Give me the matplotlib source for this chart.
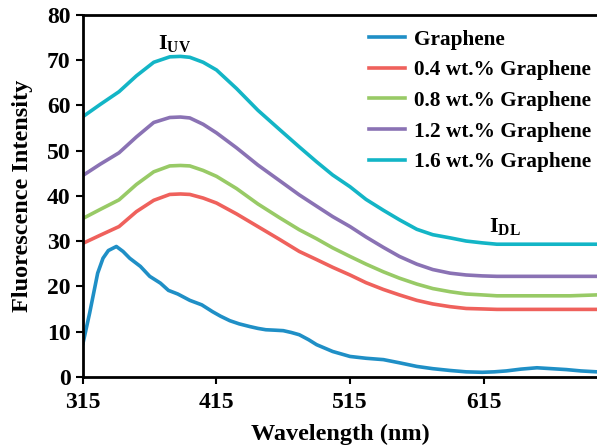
import numpy as np
import matplotlib.pyplot as plt

plt.rcParams['font.family'] = ['Liberation Serif', 'DejaVu Serif']
plt.rcParams['font.weight'] = 'bold'
plt.rcParams['mathtext.fontset'] = 'custom'
plt.rcParams['mathtext.rm'] = 'Liberation Serif:bold'
plt.rcParams['mathtext.bf'] = 'Liberation Serif:bold'

# wavelength samples (nm) and intensities
wl_blue = [315, 320, 326, 330, 334, 340, 345, 350, 358, 365, 373, 379, 386, 395,
           404, 412, 418, 425, 432, 440, 446, 452, 459, 465, 471, 477, 484,
           490, 502, 515, 527, 540, 552, 565, 577, 590, 602, 614, 623, 632, 643,
           655, 666, 677, 688, 700]
i_blue = [7.4, 14.1, 22.9, 26.2, 27.9, 28.8, 27.7, 26.2, 24.4, 22.2, 20.7, 19.1,
          18.3, 16.9, 15.9, 14.4, 13.4, 12.4, 11.7, 11.1, 10.7, 10.4, 10.3,
          10.2, 9.8, 9.3, 8.2, 7.1, 5.6, 4.5, 4.1, 3.8, 3.1, 2.3, 1.8, 1.4, 1.1,
          1.0, 1.1, 1.3, 1.7, 2.0, 1.8, 1.6, 1.3, 1.1]

wl = [315, 328, 342, 355, 368, 380, 388, 395, 405, 415, 430, 446, 462, 477, 490,
      502, 515, 527, 540, 552, 565, 577, 590, 602, 614, 625, 640, 660, 680, 700]
i_04 = [29.5, 31.3, 33.2, 36.5, 39.0, 40.3, 40.4, 40.3, 39.5, 38.4, 36.0, 33.2,
        30.4, 27.7, 25.9, 24.2, 22.5, 20.8, 19.3, 18.1, 16.9, 16.1, 15.5, 15.1,
        15.0, 14.9, 14.9, 14.9, 14.9, 14.9]
i_08 = [35.0, 37.0, 39.1, 42.5, 45.3, 46.6, 46.7, 46.6, 45.6, 44.3, 41.6, 38.2,
        35.2, 32.5, 30.5, 28.5, 26.6, 24.9, 23.2, 21.8, 20.5, 19.5, 18.8, 18.3,
        18.1, 17.9, 17.9, 17.9, 17.9, 18.1]
i_12 = [44.5, 47.0, 49.5, 53.0, 56.2, 57.3, 57.4, 57.2, 55.8, 53.9, 50.6, 46.8,
        43.4, 40.2, 37.7, 35.4, 33.2, 30.9, 28.6, 26.6, 24.9, 23.7, 22.9, 22.5,
        22.3, 22.2, 22.2, 22.2, 22.2, 22.2]
i_16 = [57.5, 60.2, 63.0, 66.5, 69.5, 70.7, 70.8, 70.6, 69.5, 67.8, 63.7, 58.9,
        54.7, 50.8, 47.5, 44.6, 42.0, 39.2, 36.8, 34.7, 32.6, 31.4, 30.7, 30.0,
        29.6, 29.3, 29.3, 29.3, 29.3, 29.3]

labels = ['Graphene', '0.4 wt.% Graphene', '0.8 wt.% Graphene',
          '1.2 wt.% Graphene', '1.6 wt.% Graphene']
colors = ['#1f8fc6', '#ef615c', '#98ca66', '#8a72b4', '#13b5c6']

fig = plt.figure(figsize=(5.97, 4.47), dpi=100)
ax = fig.add_axes([0.139, 0.157, 0.861, 0.81])

ax.plot(wl_blue, i_blue, color=colors[0], lw=2.6, label=labels[0])
ax.plot(wl, i_04, color=colors[1], lw=2.6, label=labels[1])
ax.plot(wl, i_08, color=colors[2], lw=2.6, label=labels[2])
ax.plot(wl, i_12, color=colors[3], lw=2.6, label=labels[3])
ax.plot(wl, i_16, color=colors[4], lw=2.6, label=labels[4])

ax.set_xlim(315, 700)
ax.set_ylim(0, 80)
ax.set_xticks([315, 415, 515, 615])
ax.set_yticks(range(0, 81, 10))
ax.tick_params(labelsize=17, width=1.5, length=5)
ax.tick_params(axis='x', pad=6)
ax.tick_params(axis='y', pad=4)
for s in ['left', 'bottom', 'top']:
    ax.spines[s].set_linewidth(2)
ax.spines['right'].set_visible(False)

ax.set_xlabel('Wavelength (nm)', fontsize=17.5, fontweight='bold', labelpad=8)
ax.set_ylabel('Fluorescence Intensity', fontsize=17.5, fontweight='bold', labelpad=10)

ax.text(371, 72.3, r'I$_{\mathrm{UV}}$', fontsize=16)
ax.text(619, 32.0, r'I$_{\mathrm{DL}}$', fontsize=16)

leg = ax.legend(loc='upper left', bbox_to_anchor=(0.527, 1.0), frameon=False,
                fontsize=15.3, handlelength=1.7, handletextpad=0.45,
                labelspacing=0.5, borderaxespad=0.3)

fig.savefig('out.png', dpi=100)
